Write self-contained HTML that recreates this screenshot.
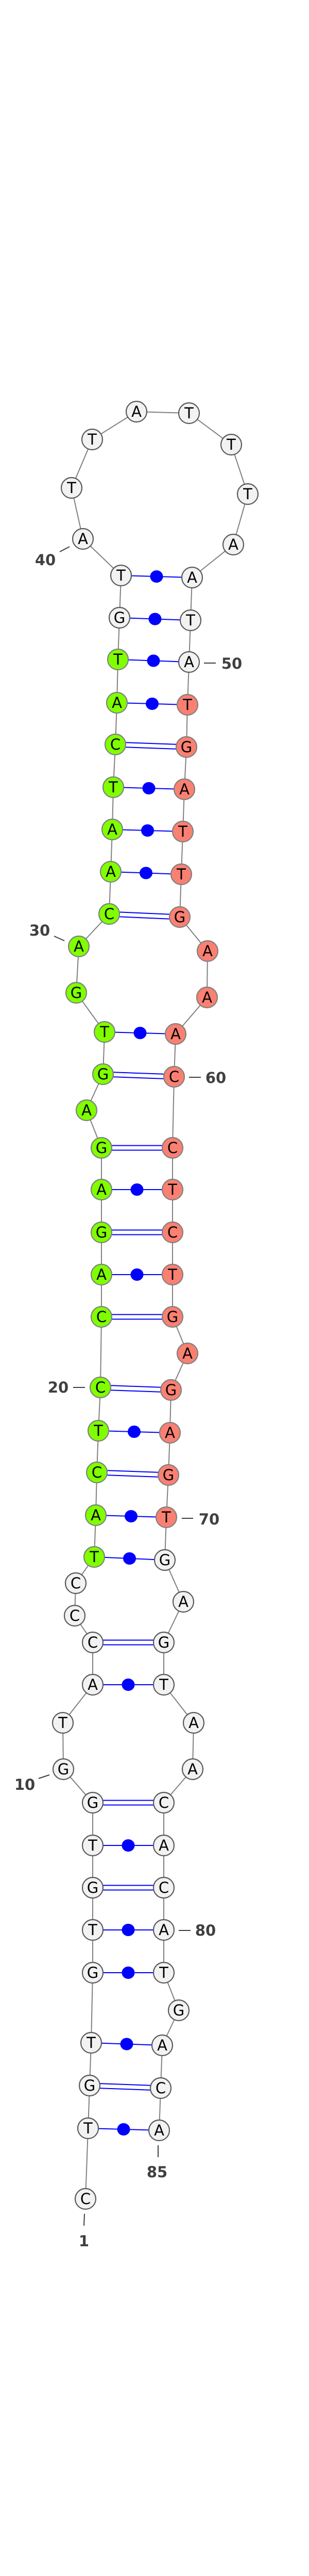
<!DOCTYPE html>
<html><head><meta charset="utf-8"><style>
html,body{margin:0;padding:0;background:#fff;width:600px;height:5085px;overflow:hidden}
svg{display:block}
.bb{fill:none;stroke:#808080;stroke-width:2}
.p{stroke:#0000ff;stroke-width:2}
.d{fill:#0000ff}
circle{stroke-width:2.2}
.g{fill:#f2f2f2;stroke:#5a5a5a}
.n{fill:#7fff00;stroke:#808080}
.r{fill:#fa8072;stroke:#808080}
.t{font-family:"DejaVu Sans","Liberation Sans",sans-serif;font-size:29px;text-anchor:middle;dominant-baseline:central;fill:#000}
.l{font-family:"DejaVu Sans","Liberation Sans",sans-serif;font-size:29px;font-weight:bold;text-anchor:middle;dominant-baseline:central;fill:#404040}
.k{stroke:#404040;stroke-width:2}
.f{font-family:"DejaVu Sans","Liberation Sans",sans-serif;font-size:11px;font-weight:bold;text-anchor:middle;fill:#000}
</style></head><body>
<svg width="600" height="5085" viewBox="0 0 600 5085" xmlns="http://www.w3.org/2000/svg">
<polyline class="bb" points="166,4268 171,4131 174,4048 177,3965 180,3829 180,3746 180,3664 180,3582 180,3499 123,3434 122,3344 180,3270 180,3188 145,3136 147,3073 183,3022 186,2941 188,2858 191,2777 195,2693 197,2556 197,2474 197,2392 197,2309 197,2228 168,2155 200,2085 203,2003 148,1927 153,1837 212,1774 215,1692 218,1610 220,1528 224,1445 227,1364 229,1280 232,1199 235,1117 161,1046 139,947 179,853 265,799 367,802 449,863 481,959 453,1057 373,1121 370,1204 367,1285 364,1368 362,1450 358,1532 355,1614 352,1697 349,1780 403,1846 402,1936 341,2007 338,2090 335,2228 335,2309 335,2392 335,2474 335,2556 364,2627 332,2698 330,2781 327,2863 323,2945 320,3028 356,3109 318,3188 318,3270 376,3344 374,3434 318,3499 318,3582 318,3664 318,3746 318,3829 347,3902 315,3970 312,4053 309,4135"/>
<g>
<line class="p" x1="171" y1="4131" x2="309" y2="4135"/><ellipse class="d" cx="240" cy="4133" rx="12.5" ry="12"/>
<line class="p" x1="174" y1="4043.5" x2="312" y2="4048.5"/><line class="p" x1="174" y1="4052.5" x2="312" y2="4057.5"/>
<line class="p" x1="177" y1="3965" x2="315" y2="3970"/><ellipse class="d" cx="246" cy="3967.5" rx="12.5" ry="12"/>
<line class="p" x1="180" y1="3829" x2="318" y2="3829"/><ellipse class="d" cx="249" cy="3829" rx="12.5" ry="12"/>
<line class="p" x1="180" y1="3746" x2="318" y2="3746"/><ellipse class="d" cx="249" cy="3746" rx="12.5" ry="12"/>
<line class="p" x1="180" y1="3659.5" x2="318" y2="3659.5"/><line class="p" x1="180" y1="3668.5" x2="318" y2="3668.5"/>
<line class="p" x1="180" y1="3582" x2="318" y2="3582"/><ellipse class="d" cx="249" cy="3582" rx="12.5" ry="12"/>
<line class="p" x1="180" y1="3494.5" x2="318" y2="3494.5"/><line class="p" x1="180" y1="3503.5" x2="318" y2="3503.5"/>
<line class="p" x1="180" y1="3270" x2="318" y2="3270"/><ellipse class="d" cx="249" cy="3270" rx="12.5" ry="12"/>
<line class="p" x1="180" y1="3183.5" x2="318" y2="3183.5"/><line class="p" x1="180" y1="3192.5" x2="318" y2="3192.5"/>
<line class="p" x1="183" y1="3022" x2="320" y2="3028"/><ellipse class="d" cx="251.5" cy="3025" rx="12.5" ry="12"/>
<line class="p" x1="186" y1="2941" x2="323" y2="2945"/><ellipse class="d" cx="254.5" cy="2943" rx="12.5" ry="12"/>
<line class="p" x1="188" y1="2853.5" x2="327" y2="2858.5"/><line class="p" x1="188" y1="2862.5" x2="327" y2="2867.5"/>
<line class="p" x1="191" y1="2777" x2="330" y2="2781"/><ellipse class="d" cx="260.5" cy="2779" rx="12.5" ry="12"/>
<line class="p" x1="195" y1="2688.5" x2="332" y2="2693.5"/><line class="p" x1="195" y1="2697.5" x2="332" y2="2702.5"/>
<line class="p" x1="197" y1="2551.5" x2="335" y2="2551.5"/><line class="p" x1="197" y1="2560.5" x2="335" y2="2560.5"/>
<line class="p" x1="197" y1="2474" x2="335" y2="2474"/><ellipse class="d" cx="266" cy="2474" rx="12.5" ry="12"/>
<line class="p" x1="197" y1="2387.5" x2="335" y2="2387.5"/><line class="p" x1="197" y1="2396.5" x2="335" y2="2396.5"/>
<line class="p" x1="197" y1="2309" x2="335" y2="2309"/><ellipse class="d" cx="266" cy="2309" rx="12.5" ry="12"/>
<line class="p" x1="197" y1="2223.5" x2="335" y2="2223.5"/><line class="p" x1="197" y1="2232.5" x2="335" y2="2232.5"/>
<line class="p" x1="200" y1="2080.5" x2="338" y2="2085.5"/><line class="p" x1="200" y1="2089.5" x2="338" y2="2094.5"/>
<line class="p" x1="203" y1="2003" x2="341" y2="2007"/><ellipse class="d" cx="272" cy="2005" rx="12.5" ry="12"/>
<line class="p" x1="212" y1="1769.5" x2="349" y2="1775.5"/><line class="p" x1="212" y1="1778.5" x2="349" y2="1784.5"/>
<line class="p" x1="215" y1="1692" x2="352" y2="1697"/><ellipse class="d" cx="283.5" cy="1694.5" rx="12.5" ry="12"/>
<line class="p" x1="218" y1="1610" x2="355" y2="1614"/><ellipse class="d" cx="286.5" cy="1612" rx="12.5" ry="12"/>
<line class="p" x1="220" y1="1528" x2="358" y2="1532"/><ellipse class="d" cx="289" cy="1530" rx="12.5" ry="12"/>
<line class="p" x1="224" y1="1440.5" x2="362" y2="1445.5"/><line class="p" x1="224" y1="1449.5" x2="362" y2="1454.5"/>
<line class="p" x1="227" y1="1364" x2="364" y2="1368"/><ellipse class="d" cx="295.5" cy="1366" rx="12.5" ry="12"/>
<line class="p" x1="229" y1="1280" x2="367" y2="1285"/><ellipse class="d" cx="298" cy="1282.5" rx="12.5" ry="12"/>
<line class="p" x1="232" y1="1199" x2="370" y2="1204"/><ellipse class="d" cx="301" cy="1201.5" rx="12.5" ry="12"/>
<line class="p" x1="235" y1="1117" x2="373" y2="1121"/><ellipse class="d" cx="304" cy="1119" rx="12.5" ry="12"/>
</g>
<g>
<circle class="g" cx="166" cy="4268" r="20"/><text class="t" x="166" y="4268">C</text>
<circle class="g" cx="171" cy="4131" r="20"/><text class="t" x="171" y="4131">T</text>
<circle class="g" cx="174" cy="4048" r="20"/><text class="t" x="174" y="4048">G</text>
<circle class="g" cx="177" cy="3965" r="20"/><text class="t" x="177" y="3965">T</text>
<circle class="g" cx="180" cy="3829" r="20"/><text class="t" x="180" y="3829">G</text>
<circle class="g" cx="180" cy="3746" r="20"/><text class="t" x="180" y="3746">T</text>
<circle class="g" cx="180" cy="3664" r="20"/><text class="t" x="180" y="3664">G</text>
<circle class="g" cx="180" cy="3582" r="20"/><text class="t" x="180" y="3582">T</text>
<circle class="g" cx="180" cy="3499" r="20"/><text class="t" x="180" y="3499">G</text>
<circle class="g" cx="123" cy="3434" r="20"/><text class="t" x="123" y="3434">G</text>
<circle class="g" cx="122" cy="3344" r="20"/><text class="t" x="122" y="3344">T</text>
<circle class="g" cx="180" cy="3270" r="20"/><text class="t" x="180" y="3270">A</text>
<circle class="g" cx="180" cy="3188" r="20"/><text class="t" x="180" y="3188">C</text>
<circle class="g" cx="145" cy="3136" r="20"/><text class="t" x="145" y="3136">C</text>
<circle class="g" cx="147" cy="3073" r="20"/><text class="t" x="147" y="3073">C</text>
<circle class="n" cx="183" cy="3022" r="20"/><text class="t" x="183" y="3022">T</text>
<circle class="n" cx="186" cy="2941" r="20"/><text class="t" x="186" y="2941">A</text>
<circle class="n" cx="188" cy="2858" r="20"/><text class="t" x="188" y="2858">C</text>
<circle class="n" cx="191" cy="2777" r="20"/><text class="t" x="191" y="2777">T</text>
<circle class="n" cx="195" cy="2693" r="20"/><text class="t" x="195" y="2693">C</text>
<circle class="n" cx="197" cy="2556" r="20"/><text class="t" x="197" y="2556">C</text>
<circle class="n" cx="197" cy="2474" r="20"/><text class="t" x="197" y="2474">A</text>
<circle class="n" cx="197" cy="2392" r="20"/><text class="t" x="197" y="2392">G</text>
<circle class="n" cx="197" cy="2309" r="20"/><text class="t" x="197" y="2309">A</text>
<circle class="n" cx="197" cy="2228" r="20"/><text class="t" x="197" y="2228">G</text>
<circle class="n" cx="168" cy="2155" r="20"/><text class="t" x="168" y="2155">A</text>
<circle class="n" cx="200" cy="2085" r="20"/><text class="t" x="200" y="2085">G</text>
<circle class="n" cx="203" cy="2003" r="20"/><text class="t" x="203" y="2003">T</text>
<circle class="n" cx="148" cy="1927" r="20"/><text class="t" x="148" y="1927">G</text>
<circle class="n" cx="153" cy="1837" r="20"/><text class="t" x="153" y="1837">A</text>
<circle class="n" cx="212" cy="1774" r="20"/><text class="t" x="212" y="1774">C</text>
<circle class="n" cx="215" cy="1692" r="20"/><text class="t" x="215" y="1692">A</text>
<circle class="n" cx="218" cy="1610" r="20"/><text class="t" x="218" y="1610">A</text>
<circle class="n" cx="220" cy="1528" r="20"/><text class="t" x="220" y="1528">T</text>
<circle class="n" cx="224" cy="1445" r="20"/><text class="t" x="224" y="1445">C</text>
<circle class="n" cx="227" cy="1364" r="20"/><text class="t" x="227" y="1364">A</text>
<circle class="n" cx="229" cy="1280" r="20"/><text class="t" x="229" y="1280">T</text>
<circle class="g" cx="232" cy="1199" r="20"/><text class="t" x="232" y="1199">G</text>
<circle class="g" cx="235" cy="1117" r="20"/><text class="t" x="235" y="1117">T</text>
<circle class="g" cx="161" cy="1046" r="20"/><text class="t" x="161" y="1046">A</text>
<circle class="g" cx="139" cy="947" r="20"/><text class="t" x="139" y="947">T</text>
<circle class="g" cx="179" cy="853" r="20"/><text class="t" x="179" y="853">T</text>
<circle class="g" cx="265" cy="799" r="20"/><text class="t" x="265" y="799">A</text>
<circle class="g" cx="367" cy="802" r="20"/><text class="t" x="367" y="802">T</text>
<circle class="g" cx="449" cy="863" r="20"/><text class="t" x="449" y="863">T</text>
<circle class="g" cx="481" cy="959" r="20"/><text class="t" x="481" y="959">T</text>
<circle class="g" cx="453" cy="1057" r="20"/><text class="t" x="453" y="1057">A</text>
<circle class="g" cx="373" cy="1121" r="20"/><text class="t" x="373" y="1121">A</text>
<circle class="g" cx="370" cy="1204" r="20"/><text class="t" x="370" y="1204">T</text>
<circle class="g" cx="367" cy="1285" r="20"/><text class="t" x="367" y="1285">A</text>
<circle class="r" cx="364" cy="1368" r="20"/><text class="t" x="364" y="1368">T</text>
<circle class="r" cx="362" cy="1450" r="20"/><text class="t" x="362" y="1450">G</text>
<circle class="r" cx="358" cy="1532" r="20"/><text class="t" x="358" y="1532">A</text>
<circle class="r" cx="355" cy="1614" r="20"/><text class="t" x="355" y="1614">T</text>
<circle class="r" cx="352" cy="1697" r="20"/><text class="t" x="352" y="1697">T</text>
<circle class="r" cx="349" cy="1780" r="20"/><text class="t" x="349" y="1780">G</text>
<circle class="r" cx="403" cy="1846" r="20"/><text class="t" x="403" y="1846">A</text>
<circle class="r" cx="402" cy="1936" r="20"/><text class="t" x="402" y="1936">A</text>
<circle class="r" cx="341" cy="2007" r="20"/><text class="t" x="341" y="2007">A</text>
<circle class="r" cx="338" cy="2090" r="20"/><text class="t" x="338" y="2090">C</text>
<circle class="r" cx="335" cy="2228" r="20"/><text class="t" x="335" y="2228">C</text>
<circle class="r" cx="335" cy="2309" r="20"/><text class="t" x="335" y="2309">T</text>
<circle class="r" cx="335" cy="2392" r="20"/><text class="t" x="335" y="2392">C</text>
<circle class="r" cx="335" cy="2474" r="20"/><text class="t" x="335" y="2474">T</text>
<circle class="r" cx="335" cy="2556" r="20"/><text class="t" x="335" y="2556">G</text>
<circle class="r" cx="364" cy="2627" r="20"/><text class="t" x="364" y="2627">A</text>
<circle class="r" cx="332" cy="2698" r="20"/><text class="t" x="332" y="2698">G</text>
<circle class="r" cx="330" cy="2781" r="20"/><text class="t" x="330" y="2781">A</text>
<circle class="r" cx="327" cy="2863" r="20"/><text class="t" x="327" y="2863">G</text>
<circle class="r" cx="323" cy="2945" r="20"/><text class="t" x="323" y="2945">T</text>
<circle class="g" cx="320" cy="3028" r="20"/><text class="t" x="320" y="3028">G</text>
<circle class="g" cx="356" cy="3109" r="20"/><text class="t" x="356" y="3109">A</text>
<circle class="g" cx="318" cy="3188" r="20"/><text class="t" x="318" y="3188">G</text>
<circle class="g" cx="318" cy="3270" r="20"/><text class="t" x="318" y="3270">T</text>
<circle class="g" cx="376" cy="3344" r="20"/><text class="t" x="376" y="3344">A</text>
<circle class="g" cx="374" cy="3434" r="20"/><text class="t" x="374" y="3434">A</text>
<circle class="g" cx="318" cy="3499" r="20"/><text class="t" x="318" y="3499">C</text>
<circle class="g" cx="318" cy="3582" r="20"/><text class="t" x="318" y="3582">A</text>
<circle class="g" cx="318" cy="3664" r="20"/><text class="t" x="318" y="3664">C</text>
<circle class="g" cx="318" cy="3746" r="20"/><text class="t" x="318" y="3746">A</text>
<circle class="g" cx="318" cy="3829" r="20"/><text class="t" x="318" y="3829">T</text>
<circle class="g" cx="347" cy="3902" r="20"/><text class="t" x="347" y="3902">G</text>
<circle class="g" cx="315" cy="3970" r="20"/><text class="t" x="315" y="3970">A</text>
<circle class="g" cx="312" cy="4053" r="20"/><text class="t" x="312" y="4053">C</text>
<circle class="g" cx="309" cy="4135" r="20"/><text class="t" x="309" y="4135">A</text>
</g>
<g>
<line class="k" x1="116" y1="1071" x2="135" y2="1061"/><text class="l" x="88" y="1087">40</text>
<line class="k" x1="396" y1="1287" x2="419" y2="1287"/><text class="l" x="450" y="1288">50</text>
<line class="k" x1="105" y1="1817" x2="125" y2="1826"/><text class="l" x="77" y="1806">30</text>
<line class="k" x1="367" y1="2091" x2="390" y2="2091"/><text class="l" x="419" y="2092">60</text>
<line class="k" x1="142" y1="2693" x2="165" y2="2693"/><text class="l" x="113" y="2693">20</text>
<line class="k" x1="353" y1="2947" x2="375" y2="2947"/><text class="l" x="406" y="2949">70</text>
<line class="k" x1="75" y1="3452" x2="96" y2="3445"/><text class="l" x="48" y="3464">10</text>
<line class="k" x1="347" y1="3747" x2="370" y2="3747"/><text class="l" x="399" y="3747">80</text>
<line class="k" x1="307" y1="4164" x2="307" y2="4187"/><text class="l" x="305" y="4216">85</text>
<line class="k" x1="164" y1="4297" x2="163" y2="4320"/><text class="l" x="163" y="4350">1</text>
</g>
<text class="f" x="300" y="5076">ocu-mir-509_annot [-31.8]</text>
</svg>
</body></html>
